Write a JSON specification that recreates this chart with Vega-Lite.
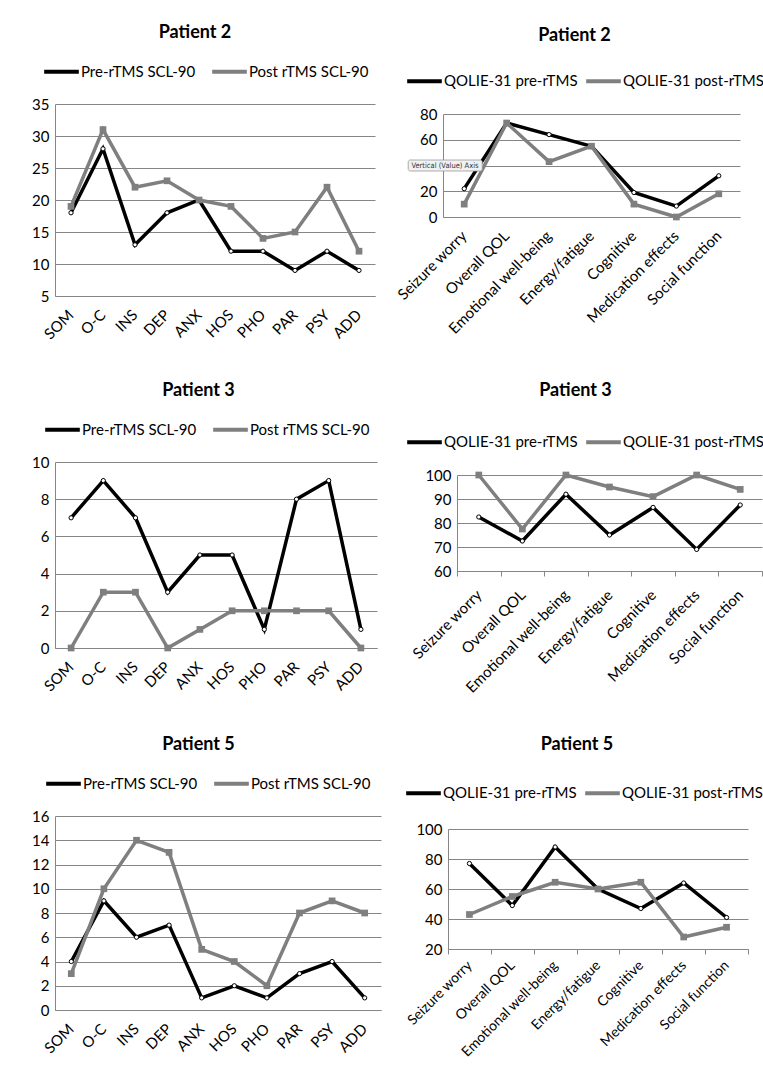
{
  "$schema": "https://vega.github.io/schema/vega-lite/v6.json",
  "padding": {"left": 15, "top": 24, "right": 0, "bottom": 0},
  "background": "white",
  "data": {"values": [
    {"p": 2, "s": "SCL", "ph": "pre", "item": "SOM", "value": 18},
    {"p": 2, "s": "SCL", "ph": "pre", "item": "O-C", "value": 28},
    {"p": 2, "s": "SCL", "ph": "pre", "item": "INS", "value": 13},
    {"p": 2, "s": "SCL", "ph": "pre", "item": "DEP", "value": 18},
    {"p": 2, "s": "SCL", "ph": "pre", "item": "ANX", "value": 20},
    {"p": 2, "s": "SCL", "ph": "pre", "item": "HOS", "value": 12},
    {"p": 2, "s": "SCL", "ph": "pre", "item": "PHO", "value": 12},
    {"p": 2, "s": "SCL", "ph": "pre", "item": "PAR", "value": 9},
    {"p": 2, "s": "SCL", "ph": "pre", "item": "PSY", "value": 12},
    {"p": 2, "s": "SCL", "ph": "pre", "item": "ADD", "value": 9},
    {"p": 2, "s": "SCL", "ph": "post", "item": "SOM", "value": 19},
    {"p": 2, "s": "SCL", "ph": "post", "item": "O-C", "value": 31},
    {"p": 2, "s": "SCL", "ph": "post", "item": "INS", "value": 22},
    {"p": 2, "s": "SCL", "ph": "post", "item": "DEP", "value": 23},
    {"p": 2, "s": "SCL", "ph": "post", "item": "ANX", "value": 20},
    {"p": 2, "s": "SCL", "ph": "post", "item": "HOS", "value": 19},
    {"p": 2, "s": "SCL", "ph": "post", "item": "PHO", "value": 14},
    {"p": 2, "s": "SCL", "ph": "post", "item": "PAR", "value": 15},
    {"p": 2, "s": "SCL", "ph": "post", "item": "PSY", "value": 22},
    {"p": 2, "s": "SCL", "ph": "post", "item": "ADD", "value": 12},
    {"p": 3, "s": "SCL", "ph": "pre", "item": "SOM", "value": 7},
    {"p": 3, "s": "SCL", "ph": "pre", "item": "O-C", "value": 9},
    {"p": 3, "s": "SCL", "ph": "pre", "item": "INS", "value": 7},
    {"p": 3, "s": "SCL", "ph": "pre", "item": "DEP", "value": 3},
    {"p": 3, "s": "SCL", "ph": "pre", "item": "ANX", "value": 5},
    {"p": 3, "s": "SCL", "ph": "pre", "item": "HOS", "value": 5},
    {"p": 3, "s": "SCL", "ph": "pre", "item": "PHO", "value": 1},
    {"p": 3, "s": "SCL", "ph": "pre", "item": "PAR", "value": 8},
    {"p": 3, "s": "SCL", "ph": "pre", "item": "PSY", "value": 9},
    {"p": 3, "s": "SCL", "ph": "pre", "item": "ADD", "value": 1},
    {"p": 3, "s": "SCL", "ph": "post", "item": "SOM", "value": 0},
    {"p": 3, "s": "SCL", "ph": "post", "item": "O-C", "value": 3},
    {"p": 3, "s": "SCL", "ph": "post", "item": "INS", "value": 3},
    {"p": 3, "s": "SCL", "ph": "post", "item": "DEP", "value": 0},
    {"p": 3, "s": "SCL", "ph": "post", "item": "ANX", "value": 1},
    {"p": 3, "s": "SCL", "ph": "post", "item": "HOS", "value": 2},
    {"p": 3, "s": "SCL", "ph": "post", "item": "PHO", "value": 2},
    {"p": 3, "s": "SCL", "ph": "post", "item": "PAR", "value": 2},
    {"p": 3, "s": "SCL", "ph": "post", "item": "PSY", "value": 2},
    {"p": 3, "s": "SCL", "ph": "post", "item": "ADD", "value": 0},
    {"p": 5, "s": "SCL", "ph": "pre", "item": "SOM", "value": 4},
    {"p": 5, "s": "SCL", "ph": "pre", "item": "O-C", "value": 9},
    {"p": 5, "s": "SCL", "ph": "pre", "item": "INS", "value": 6},
    {"p": 5, "s": "SCL", "ph": "pre", "item": "DEP", "value": 7},
    {"p": 5, "s": "SCL", "ph": "pre", "item": "ANX", "value": 1},
    {"p": 5, "s": "SCL", "ph": "pre", "item": "HOS", "value": 2},
    {"p": 5, "s": "SCL", "ph": "pre", "item": "PHO", "value": 1},
    {"p": 5, "s": "SCL", "ph": "pre", "item": "PAR", "value": 3},
    {"p": 5, "s": "SCL", "ph": "pre", "item": "PSY", "value": 4},
    {"p": 5, "s": "SCL", "ph": "pre", "item": "ADD", "value": 1},
    {"p": 5, "s": "SCL", "ph": "post", "item": "SOM", "value": 3},
    {"p": 5, "s": "SCL", "ph": "post", "item": "O-C", "value": 10},
    {"p": 5, "s": "SCL", "ph": "post", "item": "INS", "value": 14},
    {"p": 5, "s": "SCL", "ph": "post", "item": "DEP", "value": 13},
    {"p": 5, "s": "SCL", "ph": "post", "item": "ANX", "value": 5},
    {"p": 5, "s": "SCL", "ph": "post", "item": "HOS", "value": 4},
    {"p": 5, "s": "SCL", "ph": "post", "item": "PHO", "value": 2},
    {"p": 5, "s": "SCL", "ph": "post", "item": "PAR", "value": 8},
    {"p": 5, "s": "SCL", "ph": "post", "item": "PSY", "value": 9},
    {"p": 5, "s": "SCL", "ph": "post", "item": "ADD", "value": 8},
    {"p": 2, "s": "QOL", "ph": "pre", "item": "Seizure worry", "value": 22},
    {"p": 2, "s": "QOL", "ph": "pre", "item": "Overall QOL", "value": 73},
    {"p": 2, "s": "QOL", "ph": "pre", "item": "Emotional well-being", "value": 64},
    {"p": 2, "s": "QOL", "ph": "pre", "item": "Energy/fatigue", "value": 55},
    {"p": 2, "s": "QOL", "ph": "pre", "item": "Cognitive", "value": 19},
    {"p": 2, "s": "QOL", "ph": "pre", "item": "Medication effects", "value": 8.5},
    {"p": 2, "s": "QOL", "ph": "pre", "item": "Social function", "value": 32},
    {"p": 2, "s": "QOL", "ph": "post", "item": "Seizure worry", "value": 10},
    {"p": 2, "s": "QOL", "ph": "post", "item": "Overall QOL", "value": 73},
    {"p": 2, "s": "QOL", "ph": "post", "item": "Emotional well-being", "value": 43},
    {"p": 2, "s": "QOL", "ph": "post", "item": "Energy/fatigue", "value": 55},
    {"p": 2, "s": "QOL", "ph": "post", "item": "Cognitive", "value": 10},
    {"p": 2, "s": "QOL", "ph": "post", "item": "Medication effects", "value": 0},
    {"p": 2, "s": "QOL", "ph": "post", "item": "Social function", "value": 18},
    {"p": 3, "s": "QOL", "ph": "pre", "item": "Seizure worry", "value": 82.5},
    {"p": 3, "s": "QOL", "ph": "pre", "item": "Overall QOL", "value": 72.5},
    {"p": 3, "s": "QOL", "ph": "pre", "item": "Emotional well-being", "value": 92},
    {"p": 3, "s": "QOL", "ph": "pre", "item": "Energy/fatigue", "value": 75},
    {"p": 3, "s": "QOL", "ph": "pre", "item": "Cognitive", "value": 86.5},
    {"p": 3, "s": "QOL", "ph": "pre", "item": "Medication effects", "value": 69},
    {"p": 3, "s": "QOL", "ph": "pre", "item": "Social function", "value": 87.5},
    {"p": 3, "s": "QOL", "ph": "post", "item": "Seizure worry", "value": 100},
    {"p": 3, "s": "QOL", "ph": "post", "item": "Overall QOL", "value": 77.5},
    {"p": 3, "s": "QOL", "ph": "post", "item": "Emotional well-being", "value": 100},
    {"p": 3, "s": "QOL", "ph": "post", "item": "Energy/fatigue", "value": 95},
    {"p": 3, "s": "QOL", "ph": "post", "item": "Cognitive", "value": 91},
    {"p": 3, "s": "QOL", "ph": "post", "item": "Medication effects", "value": 100},
    {"p": 3, "s": "QOL", "ph": "post", "item": "Social function", "value": 94},
    {"p": 5, "s": "QOL", "ph": "pre", "item": "Seizure worry", "value": 77},
    {"p": 5, "s": "QOL", "ph": "pre", "item": "Overall QOL", "value": 49},
    {"p": 5, "s": "QOL", "ph": "pre", "item": "Emotional well-being", "value": 88},
    {"p": 5, "s": "QOL", "ph": "pre", "item": "Energy/fatigue", "value": 60},
    {"p": 5, "s": "QOL", "ph": "pre", "item": "Cognitive", "value": 47},
    {"p": 5, "s": "QOL", "ph": "pre", "item": "Medication effects", "value": 64},
    {"p": 5, "s": "QOL", "ph": "pre", "item": "Social function", "value": 41},
    {"p": 5, "s": "QOL", "ph": "post", "item": "Seizure worry", "value": 43},
    {"p": 5, "s": "QOL", "ph": "post", "item": "Overall QOL", "value": 55},
    {"p": 5, "s": "QOL", "ph": "post", "item": "Emotional well-being", "value": 64.5},
    {"p": 5, "s": "QOL", "ph": "post", "item": "Energy/fatigue", "value": 60},
    {"p": 5, "s": "QOL", "ph": "post", "item": "Cognitive", "value": 64.5},
    {"p": 5, "s": "QOL", "ph": "post", "item": "Medication effects", "value": 28},
    {"p": 5, "s": "QOL", "ph": "post", "item": "Social function", "value": 34.5}
  ]},
  "vconcat": [
    {
      "hconcat": [
        {
          "title": {"text": "Patient 2"},
          "width": 320, "height": 192,
          "transform": [{"filter": "datum.p == 2 && datum.s == 'SCL'"}],
          "encoding": {
            "x": {"field": "item", "type": "nominal", "sort": ["SOM","O-C","INS","DEP","ANX","HOS","PHO","PAR","PSY","ADD"], "bandPosition": 0.5, "scale": {"type": "band", "paddingInner": 0, "paddingOuter": 0}, "axis": {"title": null, "ticks": false}},
            "y": {"field": "value", "type": "quantitative", "scale": {"domain": [5, 35], "nice": false, "zero": false}, "axis": {"title": null, "values": [5,10,15,20,25,30,35], "minExtent": 40, "maxExtent": 40}}
          },
          "layer": [
            {"mark": {"type": "line", "strokeWidth": 3.5}, "encoding": {"color": {"field": "ph", "type": "nominal", "scale": {"domain": ["pre","post"], "range": ["#000000","#7f7f7f"]}, "legend": {"legendX": -13, "columnPadding": 8, "labelExpr": "datum.label == 'pre' ? 'Pre-rTMS SCL-90' : 'Post rTMS SCL-90'"}}}},
            {"transform": [{"filter": "datum.ph == 'pre'"}], "mark": {"type": "point", "shape": "circle", "filled": true, "fill": "white", "stroke": "black", "strokeWidth": 1, "size": 18, "opacity": 1}},
            {"transform": [{"filter": "datum.ph == 'post'"}], "mark": {"type": "point", "shape": "square", "filled": true, "color": "#7f7f7f", "size": 45, "opacity": 1}}
          ]
        },
        {
          "title": {"text": "Patient 2", "offset": 17},
          "width": 297, "height": 113,
          "transform": [{"filter": "datum.p == 2 && datum.s == 'QOL'"}],
          "encoding": {
            "x": {"field": "item", "type": "nominal", "sort": ["Seizure worry","Overall QOL","Emotional well-being","Energy/fatigue","Cognitive","Medication effects","Social function"], "bandPosition": 0.5, "scale": {"type": "band", "paddingInner": 0, "paddingOuter": 0}, "axis": {"title": null, "ticks": false}},
            "y": {"field": "value", "type": "quantitative", "scale": {"domain": [0, 80], "nice": false, "range": [113, 10]}, "axis": {"title": null, "values": [0,20,40,60,80], "labelExpr": "datum.value == 40 ? '' : datum.label", "minExtent": 58, "maxExtent": 58}}
          },
          "layer": [
            {"mark": {"type": "line", "strokeWidth": 3.5}, "encoding": {"color": {"field": "ph", "type": "nominal", "scale": {"domain": ["pre","post"], "range": ["#000000","#7f7f7f"]}, "legend": {"legendX": -38, "legendY": -42.5, "labelExpr": "datum.label == 'pre' ? 'QOLIE-31 pre-rTMS' : 'QOLIE-31 post-rTMS'"}}}},
            {"transform": [{"filter": "datum.ph == 'pre'"}], "mark": {"type": "point", "shape": "circle", "filled": true, "fill": "white", "stroke": "black", "strokeWidth": 1, "size": 18, "opacity": 1}},
            {"transform": [{"filter": "datum.ph == 'post'"}], "mark": {"type": "point", "shape": "square", "filled": true, "color": "#7f7f7f", "size": 45, "opacity": 1}},
            {"transform": [{"filter": "datum.ph == 'pre' && datum.item == 'Seizure worry'"}], "mark": {"type": "rect", "width": 74, "height": 11, "fill": "#f1f1f1", "stroke": "#9a9a9a", "strokeWidth": 0.8, "cornerRadius": 2, "xOffset": -19}, "encoding": {"x": {"datum": "Seizure worry", "bandPosition": 0}, "y": {"datum": 40}}},
            {"transform": [{"filter": "datum.ph == 'pre' && datum.item == 'Seizure worry'"}], "mark": {"type": "text", "fontSize": 7.5, "font": "DejaVu Sans Condensed", "color": "#333333", "align": "center", "baseline": "middle", "text": "Vertical (Value) Axis", "xOffset": 2}, "encoding": {"x": {"datum": "Seizure worry", "bandPosition": 0}, "y": {"datum": 40}}}
          ]
        }
      ],
      "spacing": 10,
      "resolve": {"scale": {"color": "independent", "x": "independent", "y": "independent"}, "legend": {"color": "independent"}}
    },
    {
      "hconcat": [
        {
          "title": {"text": "Patient 3"},
          "width": 322, "height": 186,
          "transform": [{"filter": "datum.p == 3 && datum.s == 'SCL'"}],
          "encoding": {
            "x": {"field": "item", "type": "nominal", "sort": ["SOM","O-C","INS","DEP","ANX","HOS","PHO","PAR","PSY","ADD"], "bandPosition": 0.5, "scale": {"type": "band", "paddingInner": 0, "paddingOuter": 0}, "axis": {"title": null, "ticks": false}},
            "y": {"field": "value", "type": "quantitative", "scale": {"domain": [0, 10], "nice": false}, "axis": {"title": null, "values": [0,2,4,6,8,10], "minExtent": 35, "maxExtent": 35}}
          },
          "layer": [
            {"mark": {"type": "line", "strokeWidth": 3.5}, "encoding": {"color": {"field": "ph", "type": "nominal", "scale": {"domain": ["pre","post"], "range": ["#000000","#7f7f7f"]}, "legend": {"legendX": -12, "columnPadding": 8, "labelExpr": "datum.label == 'pre' ? 'Pre-rTMS SCL-90' : 'Post rTMS SCL-90'"}}}},
            {"transform": [{"filter": "datum.ph == 'pre'"}], "mark": {"type": "point", "shape": "circle", "filled": true, "fill": "white", "stroke": "black", "strokeWidth": 1, "size": 18, "opacity": 1}},
            {"transform": [{"filter": "datum.ph == 'post'"}], "mark": {"type": "point", "shape": "square", "filled": true, "color": "#7f7f7f", "size": 45, "opacity": 1}}
          ]
        },
        {
          "title": {"text": "Patient 3", "offset": 22.5},
          "width": 305, "height": 109,
          "transform": [{"filter": "datum.p == 3 && datum.s == 'QOL'"}],
          "encoding": {
            "x": {"field": "item", "type": "nominal", "sort": ["Seizure worry","Overall QOL","Emotional well-being","Energy/fatigue","Cognitive","Medication effects","Social function"], "bandPosition": 0.5, "scale": {"type": "band", "paddingInner": 0, "paddingOuter": 0}, "axis": {"title": null, "ticks": true, "tickBand": "extent", "tickSize": 5}},
            "y": {"field": "value", "type": "quantitative", "scale": {"domain": [60, 100], "nice": false, "zero": false, "range": [109, 13]}, "axis": {"title": null, "values": [60,70,80,90,100], "minExtent": 70, "maxExtent": 70}}
          },
          "layer": [
            {"mark": {"type": "line", "strokeWidth": 3.5}, "encoding": {"color": {"field": "ph", "type": "nominal", "scale": {"domain": ["pre","post"], "range": ["#000000","#7f7f7f"]}, "legend": {"legendX": -52, "legendY": -39.5, "labelExpr": "datum.label == 'pre' ? 'QOLIE-31 pre-rTMS' : 'QOLIE-31 post-rTMS'"}}}},
            {"transform": [{"filter": "datum.ph == 'pre'"}], "mark": {"type": "point", "shape": "circle", "filled": true, "fill": "white", "stroke": "black", "strokeWidth": 1, "size": 18, "opacity": 1}},
            {"transform": [{"filter": "datum.ph == 'post'"}], "mark": {"type": "point", "shape": "square", "filled": true, "color": "#7f7f7f", "size": 45, "opacity": 1}}
          ]
        }
      ],
      "spacing": 10,
      "resolve": {"scale": {"color": "independent", "x": "independent", "y": "independent"}, "legend": {"color": "independent"}}
    },
    {
      "hconcat": [
        {
          "title": {"text": "Patient 5"},
          "width": 326, "height": 194,
          "transform": [{"filter": "datum.p == 5 && datum.s == 'SCL'"}],
          "encoding": {
            "x": {"field": "item", "type": "nominal", "sort": ["SOM","O-C","INS","DEP","ANX","HOS","PHO","PAR","PSY","ADD"], "bandPosition": 0.5, "scale": {"type": "band", "paddingInner": 0, "paddingOuter": 0}, "axis": {"title": null, "ticks": false}},
            "y": {"field": "value", "type": "quantitative", "scale": {"domain": [0, 16], "nice": false}, "axis": {"title": null, "values": [0,2,4,6,8,10,12,14,16], "minExtent": 39, "maxExtent": 39}}
          },
          "layer": [
            {"mark": {"type": "line", "strokeWidth": 3.5}, "encoding": {"color": {"field": "ph", "type": "nominal", "scale": {"domain": ["pre","post"], "range": ["#000000","#7f7f7f"]}, "legend": {"legendX": -11, "columnPadding": 8, "labelExpr": "datum.label == 'pre' ? 'Pre-rTMS SCL-90' : 'Post rTMS SCL-90'"}}}},
            {"transform": [{"filter": "datum.ph == 'pre'"}], "mark": {"type": "point", "shape": "circle", "filled": true, "fill": "white", "stroke": "black", "strokeWidth": 1, "size": 18, "opacity": 1}},
            {"transform": [{"filter": "datum.ph == 'post'"}], "mark": {"type": "point", "shape": "square", "filled": true, "color": "#7f7f7f", "size": 45, "opacity": 1}}
          ]
        },
        {
          "title": {"text": "Patient 5", "offset": 19.5},
          "width": 300, "height": 133,
          "transform": [{"filter": "datum.p == 5 && datum.s == 'QOL'"}],
          "encoding": {
            "x": {"field": "item", "type": "nominal", "sort": ["Seizure worry","Overall QOL","Emotional well-being","Energy/fatigue","Cognitive","Medication effects","Social function"], "bandPosition": 0.5, "scale": {"type": "band", "paddingInner": 0, "paddingOuter": 0}, "axis": {"title": null, "ticks": true, "tickBand": "extent", "tickSize": 5, "labelPadding": 9, "labelFontSize": 14}},
            "y": {"field": "value", "type": "quantitative", "scale": {"domain": [20, 100], "nice": false, "zero": false, "range": [133, 13]}, "axis": {"title": null, "values": [20,40,60,80,100], "minExtent": 57, "maxExtent": 57}}
          },
          "layer": [
            {"mark": {"type": "line", "strokeWidth": 3.5}, "encoding": {"color": {"field": "ph", "type": "nominal", "scale": {"domain": ["pre","post"], "range": ["#000000","#7f7f7f"]}, "legend": {"legendX": -44, "legendY": -42.5, "labelExpr": "datum.label == 'pre' ? 'QOLIE-31 pre-rTMS' : 'QOLIE-31 post-rTMS'"}}}},
            {"transform": [{"filter": "datum.ph == 'pre'"}], "mark": {"type": "point", "shape": "circle", "filled": true, "fill": "white", "stroke": "black", "strokeWidth": 1, "size": 18, "opacity": 1}},
            {"transform": [{"filter": "datum.ph == 'post'"}], "mark": {"type": "point", "shape": "square", "filled": true, "color": "#7f7f7f", "size": 45, "opacity": 1}}
          ]
        }
      ],
      "spacing": 10,
      "resolve": {"scale": {"color": "independent", "x": "independent", "y": "independent"}, "legend": {"color": "independent"}}
    }
  ],
  "spacing": 40,
  "config": {
    "font": "Lato",
    "view": {"stroke": null},
    "title": {"font": "Lato", "fontSize": 18, "fontWeight": "bold", "color": "#000000", "frame": "bounds", "anchor": "middle", "offset": 10},
    "axis": {"labelFont": "Lato", "labelColor": "#000000", "gridColor": "#868686", "domainColor": "#868686", "tickColor": "#868686", "gridWidth": 1, "domainWidth": 1},
    "axisX": {"labelAngle": -45, "labelFontSize": 15, "labelAlign": "right", "labelBaseline": "middle", "labelPadding": 16, "grid": false, "domain": true, "labelOverlap": false},
    "axisY": {"labelFontSize": 15, "ticks": false, "labelPadding": 6, "grid": true, "domain": true},
    "legend": {"orient": "none", "direction": "horizontal", "legendY": -52, "title": null, "symbolType": "stroke", "symbolStrokeWidth": 4, "symbolSize": 1200, "labelFont": "Lato", "labelFontSize": 15, "labelColor": "#000000", "columnPadding": 0, "labelOffset": 0, "symbolOpacity": 1}
  }
}
